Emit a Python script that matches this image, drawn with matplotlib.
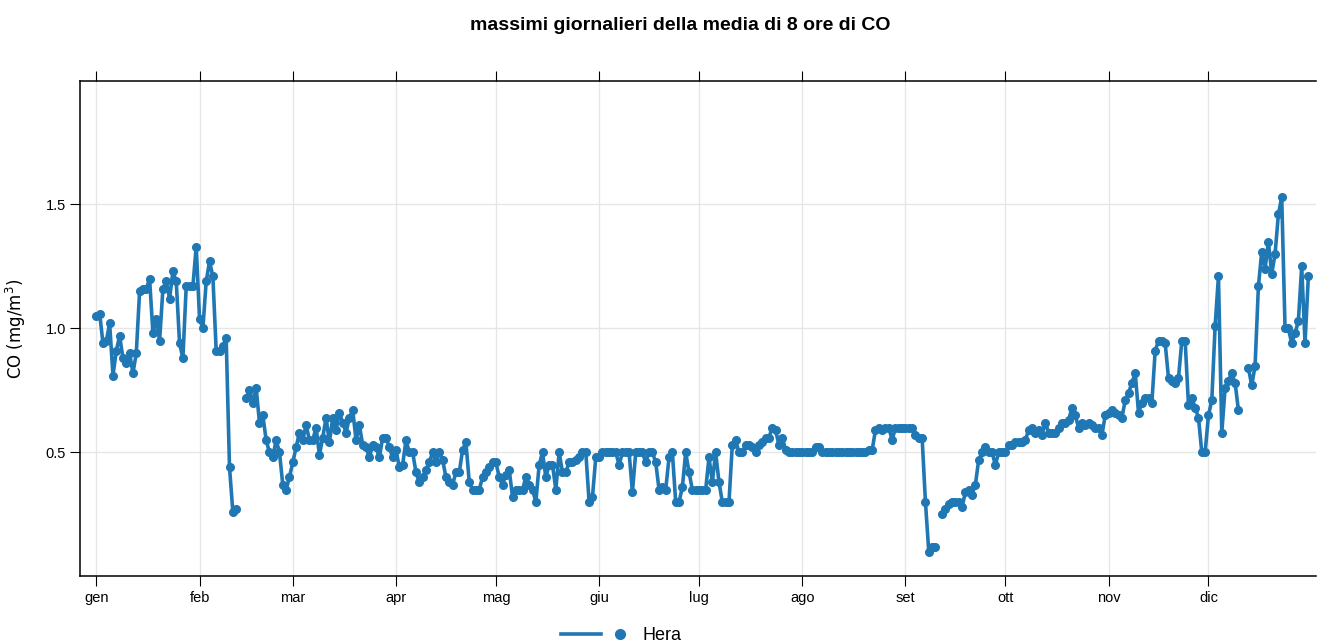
import numpy as np
import pandas as pd
import matplotlib
matplotlib.use("Agg")
import matplotlib.pyplot as plt
from matplotlib.lines import Line2D
from matplotlib.legend_handler import HandlerTuple

nan = np.nan

# daily maxima of the 8-hour running mean of CO (mg/m3), station Hera
gen = [1.05, 1.06, 0.94, 0.95, 1.02, 0.81, 0.91, 0.97, 0.88, 0.86, 0.90, 0.82, 0.90, 1.15, 1.16, 1.16,
       1.20, 0.98, 1.04, 0.95, 1.16, 1.19, 1.12, 1.23, 1.19, 0.94, 0.88, 1.17, 1.17, 1.17, 1.33]
feb = [1.04, 1.00, 1.19, 1.27, 1.21, 0.91, 0.91, 0.93, 0.96, 0.44, 0.26, 0.27, nan, nan, 0.72, 0.75,
       0.70, 0.76, 0.62, 0.65, 0.55, 0.50, 0.48, 0.55, 0.50, 0.37, 0.35, 0.40]
mar = [0.46, 0.52, 0.58, 0.55, 0.61, 0.55, 0.55, 0.60, 0.49, 0.56, 0.64, 0.54, 0.64, 0.59, 0.66, 0.62,
       0.58, 0.64, 0.67, 0.55, 0.61, 0.53, 0.52, 0.48, 0.53, 0.52, 0.48, 0.56, 0.56, 0.52, 0.48]
apr = [0.51, 0.44, 0.45, 0.55, 0.50, 0.50, 0.42, 0.38, 0.40, 0.43, 0.46, 0.50, 0.46, 0.50, 0.47, 0.40,
       0.38, 0.37, 0.42, 0.42, 0.51, 0.54, 0.38, 0.35, 0.35, 0.35, 0.40, 0.42, 0.44, 0.46]
mag = [0.46, 0.40, 0.37, 0.41, 0.43, 0.32, 0.35, 0.35, 0.35, 0.40, 0.37, 0.35, 0.30, 0.45, 0.50, 0.40,
       0.45, 0.45, 0.35, 0.50, 0.42, 0.42, 0.46, 0.46, 0.47, 0.48, 0.50, 0.50, 0.30, 0.32, 0.48]
giu = [0.48, 0.50, 0.50, 0.50, 0.50, 0.50, 0.45, 0.50, 0.50, 0.50, 0.34, 0.50, 0.50, 0.50, 0.46, 0.50,
       0.50, 0.46, 0.35, 0.36, 0.35, 0.48, 0.50, 0.30, 0.30, 0.36, 0.50, 0.42, 0.35, 0.35]
lug = [0.35, 0.35, 0.35, 0.48, 0.38, 0.50, 0.38, 0.30, 0.30, 0.30, 0.53, 0.55, 0.50, 0.50, 0.53, 0.53,
       0.52, 0.50, 0.53, 0.54, 0.56, 0.56, 0.60, 0.59, 0.53, 0.56, 0.51, 0.50, 0.50, 0.50, 0.50]
ago = [0.50, 0.50, 0.50, 0.50, 0.52, 0.52, 0.50, 0.50, 0.50, 0.50, 0.50, 0.50, 0.50, 0.50, 0.50, 0.50,
       0.50, 0.50, 0.50, 0.50, 0.51, 0.51, 0.59, 0.60, 0.59, 0.60, 0.60, 0.55, 0.60, 0.60, 0.60]
set_ = [0.60, 0.60, 0.60, 0.57, 0.56, 0.56, 0.30, 0.10, 0.12, 0.12, nan, 0.25, 0.27, 0.29, 0.30, 0.30,
        0.30, 0.28, 0.34, 0.35, 0.33, 0.37, 0.47, 0.50, 0.52, 0.50, 0.50, 0.45, 0.50, 0.50]
ott = [0.50, 0.53, 0.53, 0.54, 0.54, 0.54, 0.55, 0.59, 0.60, 0.58, 0.59, 0.57, 0.62, 0.58, 0.58, 0.58,
       0.60, 0.62, 0.62, 0.63, 0.68, 0.65, 0.60, 0.62, 0.61, 0.62, 0.61, 0.60, 0.60, 0.57, 0.65]
nov = [0.66, 0.67, 0.66, 0.65, 0.64, 0.71, 0.74, 0.78, 0.82, 0.66, 0.70, 0.72, 0.72, 0.70, 0.91, 0.95,
       0.95, 0.94, 0.80, 0.79, 0.78, 0.80, 0.95, 0.95, 0.69, 0.72, 0.68, 0.64, 0.50, 0.50]
dic = [0.65, 0.71, 1.01, 1.21, 0.58, 0.76, 0.79, 0.82, 0.78, 0.67, nan, nan, 0.84, 0.77, 0.85, 1.17,
       1.31, 1.24, 1.35, 1.22, 1.30, 1.46, 1.53, 1.00, 1.00, 0.94, 0.98, 1.03, 1.25, 0.94, 1.21]

month_labels = ["gen", "feb", "mar", "apr", "mag", "giu", "lug", "ago", "set", "ott", "nov", "dic"]
y_ticks = [0.5, 1.0, 1.5]

co = np.array(gen + feb + mar + apr + mag + giu + lug + ago + set_ + ott + nov + dic)
days = pd.date_range("2023-01-01", "2023-12-31", freq="D")

plt.rcParams['font.family'] = ['Liberation Sans', 'DejaVu Sans']

fig = plt.figure(figsize=(13.17, 6.44), dpi=100)
ax = fig.add_axes([0.061, 0.105, 0.938, 0.77])

blue = "#1f77b4"
ax.plot(days, co, color=blue, lw=2.6, marker="o", ms=5.5)

month_starts = pd.date_range("2023-01-01", periods=12, freq="MS")
ax.set_xticks(month_starts)
ax.set_xticklabels(month_labels, fontsize=10.5)
ax.set_yticks(y_ticks)
ax.set_yticklabels([f"{v:.1f}" for v in y_ticks], fontsize=10.5)
ax.set_xlim(pd.Timestamp("2023-01-01") - pd.Timedelta(days=4.8),
            pd.Timestamp("2024-01-01") + pd.Timedelta(days=1.2))
ax.set_ylim(0, 2.0)

ax.grid(True, color="#e6e6e6", lw=1)
ax.set_axisbelow(True)
ax.tick_params(axis="x", direction="out", length=7, top=True, bottom=True, color="black")
ax.tick_params(axis="y", direction="out", length=7, left=True, color="black")
ax.spines["right"].set_visible(False)
for s in ["left", "top", "bottom"]:
    ax.spines[s].set_linewidth(1.1)

ax.set_ylabel("CO (mg/m$^3$)", fontsize=12, family="DejaVu Sans")
ax.yaxis.set_label_coords(-0.042, 0.5)
fig.text(680 / 1317, 1 - 25 / 644, "massimi giornalieri della media di 8 ore di CO",
         fontsize=14, fontweight="bold", ha="center", va="center")

# legend: line segment followed by the marker, as in the original
h_line = Line2D([], [], color=blue, lw=2.6)
h_mark = Line2D([], [], color=blue, marker="o", ms=7, ls="none")
ax.legend([(h_line, h_mark)], ["Hera"], handler_map={tuple: HandlerTuple(ndivide=None, pad=0)},
          loc="upper center", bbox_to_anchor=(0.438, -0.07), frameon=False, fontsize=13,
          handlelength=4.4, handletextpad=0.15)
fig.savefig("out.png", dpi=100)
